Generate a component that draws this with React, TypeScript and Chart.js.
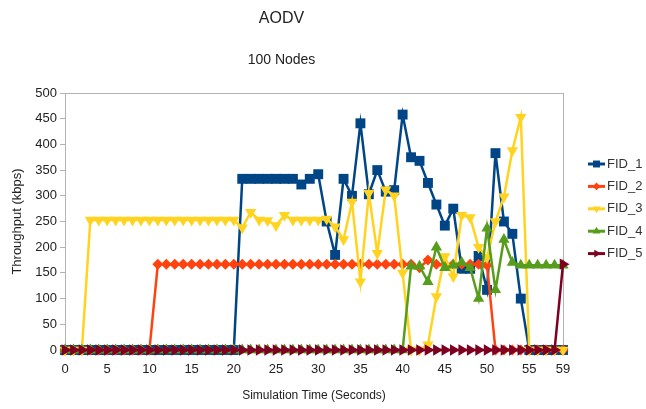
import React, { useEffect, useRef } from 'react';
import { Chart, registerables } from 'chart.js';

Chart.register(...registerables);

const timeLabels = [
  '0','1','2','3','4','5','6','7','8','9',
  '10','11','12','13','14','15','16','17','18','19',
  '20','21','22','23','24','25','26','27','28','29',
  '30','31','32','33','34','35','36','37','38','39',
  '40','41','42','43','44','45','46','47','48','49',
  '50','51','52','53','54','55','56','57','58','59',
];
const shownTimeTicks = ['0','5','10','15','20','25','30','35','40','45','50','55','59'];

const fid1 = [
  0,0,0,0,0,0,0,0,0,0,
  0,0,0,0,0,0,0,0,0,0,
  0,333,333,333,333,333,333,333,322,333,
  342,250,185,333,300,441,303,350,308,311,
  458,375,368,325,283,242,275,158,158,183,
  117,383,250,226,100,0,0,0,0,0,
];
const fid2 = [
  0,0,0,0,0,0,0,0,0,0,
  0,167,167,167,167,167,167,167,167,167,
  167,167,167,167,167,167,167,167,167,167,
  167,167,167,167,167,167,167,167,167,167,
  167,167,160,175,167,165,167,167,167,167,
  165,0,0,0,0,0,0,0,0,0,
];
const fid3 = [
  0,0,0,253,253,253,253,253,253,253,
  253,253,253,253,253,253,253,253,253,253,
  253,238,268,253,252,242,262,253,253,253,
  253,255,240,215,288,133,305,188,312,300,
  150,0,0,10,104,182,143,262,258,200,
  180,250,298,388,453,0,0,0,0,0,
];
const fid4 = [
  0,0,0,0,0,0,0,0,0,0,
  0,0,0,0,0,0,0,0,0,0,
  0,0,0,0,0,0,0,0,0,0,
  0,0,0,0,0,0,0,0,0,0,
  0,163,163,133,200,160,165,170,160,100,
  237,117,215,170,165,165,165,165,165,165,
];
const fid5 = [
  0,0,0,0,0,0,0,0,0,0,
  0,0,0,0,0,0,0,0,0,0,
  0,0,0,0,0,0,0,0,0,0,
  0,0,0,0,0,0,0,0,0,0,
  0,0,0,0,0,0,0,0,0,0,
  0,0,0,0,0,0,0,0,0,167,
];

const seriesNames = ['FID_1', 'FID_2', 'FID_3', 'FID_4', 'FID_5'];
const seriesColors = ['#004586', '#ff420e', '#ffd320', '#579d1c', '#7e0021'];
const seriesStyles = ['rect', 'rectRot', 'triangle', 'triangle', 'triangle'];
const seriesRotations = [0, 0, 180, 0, 90];
const seriesRadii = [7, 5.5, 6.5, 6.5, 6.5];

const FONT = '"Liberation Sans", Arial, sans-serif';

const framePlugin = {
  id: 'frame',
  beforeDatasetsDraw(chart: any) {
    const { ctx, chartArea } = chart;
    ctx.save();
    ctx.strokeStyle = '#b3b3b3';
    ctx.lineWidth = 1;
    ctx.strokeRect(chartArea.left + 0.5, chartArea.top + 0.5, chartArea.right - chartArea.left, chartArea.bottom - chartArea.top);
    ctx.restore();
  },
};

function drawMarker(ctx: CanvasRenderingContext2D, style: string, rot: number, x: number, y: number, r: number) {
  ctx.save();
  ctx.translate(x, y);
  ctx.rotate((rot * Math.PI) / 180);
  ctx.beginPath();
  if (style === 'rect') {
    const s = Math.SQRT1_2 * r;
    ctx.rect(-s, -s, 2 * s, 2 * s);
  } else if (style === 'rectRot') {
    ctx.moveTo(-r, 0);
    ctx.lineTo(0, -r);
    ctx.lineTo(r, 0);
    ctx.lineTo(0, r);
    ctx.closePath();
  } else {
    const a = (2 * Math.PI) / 3;
    ctx.moveTo(0, -r);
    ctx.lineTo(Math.sin(a) * r, -Math.cos(a) * r);
    ctx.lineTo(Math.sin(2 * a) * r, -Math.cos(2 * a) * r);
    ctx.closePath();
  }
  ctx.fill();
  ctx.restore();
}

const legendPlugin = {
  id: 'sideLegend',
  afterDraw(chart: any) {
    const { ctx } = chart;
    ctx.save();
    const x0 = 588;
    const y0 = 164;
    const step = 22.4;
    seriesNames.forEach((name, i) => {
      const y = y0 + i * step;
      ctx.strokeStyle = seriesColors[i];
      ctx.fillStyle = seriesColors[i];
      ctx.lineWidth = 3;
      ctx.beginPath();
      ctx.moveTo(x0, y);
      ctx.lineTo(x0 + 17, y);
      ctx.stroke();
      drawMarker(ctx, seriesStyles[i], seriesRotations[i], x0 + 8.5, y, seriesRadii[i] * 0.7);
      ctx.fillStyle = '#333333';
      ctx.font = '13px ' + FONT;
      ctx.textBaseline = 'middle';
      ctx.textAlign = 'left';
      ctx.fillText(name, x0 + 19, y);
    });
    ctx.restore();
  },
};

export default function App() {
  const canvasRef = useRef<HTMLCanvasElement | null>(null);

  useEffect(() => {
    document.body.style.margin = '0';
    const series = [fid1, fid2, fid3, fid4, fid5];
    const chart = new Chart(canvasRef.current as HTMLCanvasElement, {
      type: 'line',
      data: {
        labels: timeLabels,
        datasets: series.map((values, i) => ({
          label: seriesNames[i],
          data: values,
          borderColor: seriesColors[i],
          backgroundColor: seriesColors[i],
          borderWidth: 2.5,
          pointStyle: seriesStyles[i] as any,
          pointRotation: seriesRotations[i],
          pointRadius: seriesRadii[i],
          pointBorderWidth: 0,
          pointBackgroundColor: seriesColors[i],
          tension: 0,
          fill: false,
          clip: false,
          order: 5 - i,
        })),
      },
      options: {
        animation: false,
        responsive: false,
        maintainAspectRatio: false,
        layout: { padding: { left: 0, right: 83, top: 0, bottom: 0 } },
        plugins: {
          legend: { display: false },
          tooltip: { enabled: false },
          title: {
            display: true,
            text: 'AODV',
            color: '#222222',
            font: { family: FONT, size: 16, weight: 'normal' },
            padding: { top: 9, bottom: 24 },
          },
          subtitle: {
            display: true,
            text: '100 Nodes',
            color: '#222222',
            font: { family: FONT, size: 14, weight: 'normal' },
            padding: { top: 0, bottom: 24 },
          },
        },
        scales: {
          x: {
            type: 'category',
            offset: false,
            grid: { display: false, drawTicks: false, tickLength: 0 },
            border: { display: true, color: '#b3b3b3' },
            ticks: {
              autoSkip: false,
              maxRotation: 0,
              minRotation: 0,
              padding: 12,
              color: '#222222',
              font: { family: FONT, size: 13 },
              callback: (_v: any, idx: number) =>
                shownTimeTicks.includes(timeLabels[idx]) ? timeLabels[idx] : '',
            },
            title: {
              display: true,
              text: 'Simulation Time (Seconds)',
              color: '#222222',
              font: { family: FONT, size: 12 },
              padding: { top: 0, bottom: 6 },
            },
            afterFit: (scale: any) => {
              scale.height = 59;
            },
          },
          y: {
            min: 0,
            max: 500,
            grid: { display: true, drawOnChartArea: false, drawTicks: true, tickLength: 5, color: '#b3b3b3' },
            border: { display: true, color: '#b3b3b3' },
            ticks: {
              stepSize: 50,
              padding: 3,
              color: '#222222',
              font: { family: FONT, size: 13 },
            },
            title: {
              display: true,
              text: 'Throughput (kbps)',
              color: '#222222',
              font: { family: FONT, size: 13 },
              padding: { top: 10, bottom: 0 },
            },
            afterFit: (scale: any) => {
              scale.width = 65;
            },
          },
        },
      },
      plugins: [framePlugin, legendPlugin],
    });
    return () => chart.destroy();
  }, []);

  return (
    <div style={{ width: 646, height: 409, background: '#ffffff' }}>
      <canvas ref={canvasRef} width={646} height={409} style={{ width: 646, height: 409, display: 'block' }} />
    </div>
  );
}
